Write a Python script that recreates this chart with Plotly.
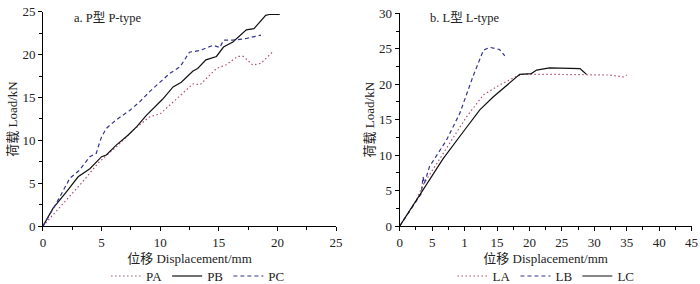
import plotly.graph_objects as go

# ---- data: panel a (P-type) ----
pa_x = [0, 2.0, 3.4, 4.8, 6.25, 7.7, 9.1, 10.0, 11.4, 12.8, 13.4, 14.8, 15.6, 16.6, 17.1, 17.9, 18.6, 19.6]
pa_y = [0, 3.0, 5.2, 7.5, 9.25, 11.2, 12.75, 13.1, 14.9, 16.6, 16.5, 18.4, 18.8, 19.8, 19.8, 18.8, 19.0, 20.35]

pb_x = [0, 0.85, 2.0, 3.0, 4.0, 5.0, 5.4, 6.25, 7.25, 8.0, 8.8, 9.7, 10.2, 11.1, 11.8, 12.8, 13.2, 13.9, 14.8, 15.4, 16.2, 17.35, 18.0, 19.0, 19.3, 20.2]
pb_y = [0, 2.06, 4.0, 5.75, 6.7, 8.1, 8.3, 9.45, 10.6, 11.6, 12.9, 14.1, 14.8, 16.25, 16.8, 18.1, 18.4, 19.4, 19.8, 20.9, 21.5, 22.9, 23.05, 24.6, 24.7, 24.7]

pc_x = [0, 1.14, 2.3, 3.1, 4.0, 4.55, 4.85, 5.0, 5.4, 6.25, 7.4, 8.25, 9.1, 10.0, 10.8, 11.7, 12.5, 13.4, 14.5, 15.1, 15.4, 16.2, 17.35, 18.6]
pc_y = [0, 2.65, 5.6, 6.5, 8.1, 8.5, 9.85, 10.4, 11.4, 12.4, 13.5, 14.5, 15.7, 16.8, 17.8, 18.6, 20.3, 20.5, 21.1, 20.85, 21.7, 21.7, 21.9, 22.3]

# ---- data: panel b (L-type) ----
la_x = [0, 2.6, 3.6, 5.66, 7.7, 10.3, 12.9, 15.4, 18.0, 19.0, 23.1, 28.3, 32.4, 34.5, 35.0]
la_y = [0, 3.7, 5.8, 8.8, 11.7, 15.4, 18.5, 19.9, 21.1, 21.4, 21.4, 21.4, 21.3, 21.05, 21.3]

lb_x = [0, 3.34, 3.6, 3.8, 4.6, 7.2, 9.26, 11.3, 12.9, 13.9, 15.4, 16.2]
lb_y = [0, 4.6, 6.95, 6.0, 8.4, 12.1, 15.9, 21.1, 24.8, 25.2, 24.9, 24.0]

lc_x = [0, 3.6, 6.7, 9.8, 12.35, 14.4, 16.5, 18.5, 20.3, 21.1, 23.1, 24.7, 27.8, 28.3, 28.8]
lc_y = [0, 5.1, 9.5, 13.3, 16.4, 18.2, 19.9, 21.4, 21.5, 22.0, 22.3, 22.3, 22.2, 21.8, 21.4]

right_ticks = [0, 5, 10, 15, 20, 25, 30, 35, 40, 45]
right_ticktext = ["0", "5", "1", "15", "20", "25", "30", "35", "40", "45"]

FONT = "Liberation Serif, Times New Roman, Noto Sans CJK SC, serif"
DOT_C = "#b0507a"
DASH_C = "#34348f"
SOLID_C = "#111111"

fig = go.Figure()

def add(x, y, name, color, dash, xa, ya, legend):
    fig.add_trace(go.Scatter(x=x, y=y, name=name, mode="lines",
                             line=dict(color=color, width=1.2, dash=dash),
                             xaxis=xa, yaxis=ya, legend=legend))

add(pa_x, pa_y, "PA", DOT_C, "1.5px,2.5px", "x", "y", "legend")
add(pb_x, pb_y, "PB", SOLID_C, "solid", "x", "y", "legend")
add(pc_x, pc_y, "PC", DASH_C, "4px,3px", "x", "y", "legend")
add(la_x, la_y, "LA", DOT_C, "1.5px,2.5px", "x2", "y2", "legend2")
add(lb_x, lb_y, "LB", DASH_C, "4px,3px", "x2", "y2", "legend2")
add(lc_x, lc_y, "LC", SOLID_C, "solid", "x2", "y2", "legend2")

axis_common = dict(showline=True, linecolor="black", linewidth=1, ticks="outside",
                   ticklen=4, tickcolor="black", showgrid=False, zeroline=False,
                   automargin=False,
                   tickfont=dict(family=FONT, size=13, color="#222"),
                   minor=dict(ticks="outside", ticklen=3, tickcolor="black", dtick=2.5),
                   title_font=dict(family=FONT, size=13, color="#222"))

legend_common = dict(orientation="h", y=0.028, yanchor="middle",
                     font=dict(family=FONT, size=13, color="#222"), bgcolor="rgba(0,0,0,0)",
                     itemwidth=30, tracegroupgap=0, borderwidth=0)

fig.update_layout(
    width=700, height=284, margin=dict(l=0, r=0, t=0, b=0, autoexpand=False),
    plot_bgcolor="white", paper_bgcolor="white",
    xaxis=dict(domain=[0.0614, 0.48], range=[0, 25], tick0=0, dtick=5, anchor="y",
               title=dict(text="位移 Displacement/mm", standoff=5), **axis_common),
    yaxis=dict(domain=[0.204, 0.958], range=[0, 25], tick0=0, dtick=5, anchor="x",
               title=dict(text="荷载 Load/kN", standoff=1), **axis_common),
    xaxis2=dict(domain=[0.571, 0.988], range=[0, 45], tickmode="array", tickvals=right_ticks,
                ticktext=right_ticktext, anchor="y2",
                title=dict(text="位移 Displacement/mm", standoff=5), **axis_common),
    yaxis2=dict(domain=[0.204, 0.953], range=[0, 30], tick0=0, dtick=5, anchor="x2",
                title=dict(text="荷载 Load/kN", standoff=1), **axis_common),
    legend=dict(x=0.283, xanchor="center", **legend_common),
    legend2=dict(x=0.78, xanchor="center", **legend_common),
    annotations=[
        dict(text="a. P型 P-type", x=0.103, y=0.937, xref="paper", yref="paper",
             xanchor="left", yanchor="middle", showarrow=False,
             font=dict(family=FONT, size=12.5, color="#222")),
        dict(text="b. L型 L-type", x=0.611, y=0.937, xref="paper", yref="paper",
             xanchor="left", yanchor="middle", showarrow=False,
             font=dict(family=FONT, size=12.5, color="#222")),
    ],
)

fig.write_html("out.html", config={"displayModeBar": False},
               post_script="document.body.style.margin='0';")
